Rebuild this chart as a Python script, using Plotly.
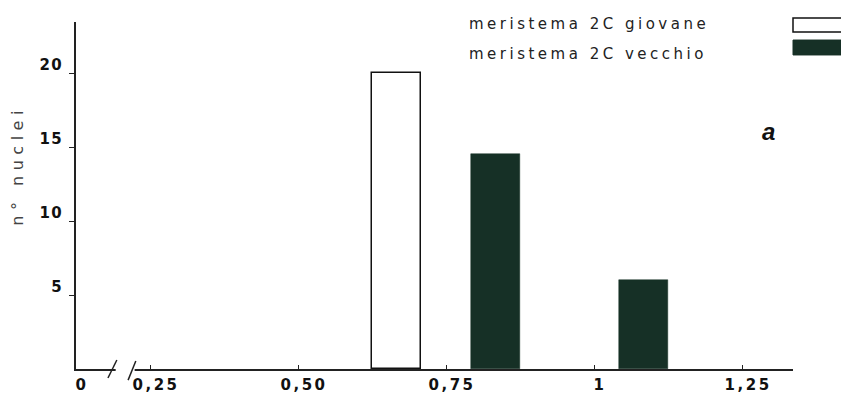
import plotly.graph_objects as go

# Data (bin centers in relative DNA content, counts of nuclei)
giovane_x = [0.6667]
giovane_y = [20]
vecchio_x = [0.8333, 1.0833]
vecchio_y = [14.5, 6]
bin_width = 1 / 12

x_tickvals = [0.125, 0.25, 0.5, 0.75, 1.0, 1.25]
x_ticktext = ["0", "0,25", "0,50", "0,75", "1", "1,25"]
y_tickvals = [5, 10, 15, 20]
y_ticktext = ["5", "10", "15", "20"]

legend_labels = ["meristema 2C giovane", "meristema 2C vecchio"]
panel_label = "a"
y_title = "n° nuclei"

DARK = "#163026"

fig = go.Figure()
fig.add_trace(go.Bar(x=giovane_x, y=giovane_y, width=bin_width,
                     marker=dict(color="white", line=dict(color="#111", width=1.5)),
                     name=legend_labels[0], showlegend=False))
fig.add_trace(go.Bar(x=vecchio_x, y=vecchio_y, width=bin_width,
                     marker=dict(color=DARK, line=dict(color=DARK, width=0.5)),
                     name=legend_labels[1], showlegend=False))

tickfont = dict(family="DejaVu Sans", size=15, color="#111", weight="bold")

fig.update_layout(
    width=841, height=404,
    margin=dict(l=76, r=48, t=22, b=35),
    paper_bgcolor="white", plot_bgcolor="white",
    bargap=0,
    xaxis=dict(range=[0.125, 1.336], tickvals=x_tickvals, ticktext=x_ticktext,
               showline=True, linecolor="#222", linewidth=1.5, showgrid=False,
               zeroline=False, ticks="inside", ticklen=4, tickcolor="#222",
               tickfont=tickfont, ticklabelstandoff=1, ticklabelshift=6,
               automargin=False),
    yaxis=dict(range=[0, 23.45], tickvals=y_tickvals, ticktext=y_ticktext,
               showline=True, linecolor="#222", linewidth=1.5, showgrid=False,
               zeroline=False, ticks="outside", ticklen=5, tickcolor="#222",
               tickfont=tickfont, ticklabelshift=-8, ticklabelstandoff=3,
               automargin=False),
)

# axis break on x axis
fig.add_shape(type="rect", xref="x", yref="paper", x0=0.192, x1=0.224, y0=-0.012, y1=0.012,
              fillcolor="white", line=dict(width=0), layer="above")
fig.add_shape(type="line", xref="x", yref="paper", x0=0.179, y0=-0.026, x1=0.194, y1=0.026,
              line=dict(color="#222", width=1.5))
fig.add_shape(type="line", xref="x", yref="paper", x0=0.213, y0=-0.032, x1=0.226, y1=0.023,
              line=dict(color="#222", width=1.5))

# legend (text + swatches)
legfont = dict(family="DejaVu Sans", size=15, color="#222")
fig.add_annotation(x=0.545, y=0.995, xref="paper", yref="paper", text=legend_labels[0],
                   showarrow=False, xanchor="left", yanchor="middle", align="left", font=legfont)
fig.add_annotation(x=0.545, y=0.909, xref="paper", yref="paper", text=legend_labels[1],
                   showarrow=False, xanchor="left", yanchor="middle", align="left", font=legfont)
fig.add_shape(type="rect", xref="paper", yref="paper", x0=1.0, x1=1.08, y0=0.971, y1=1.0115,
              fillcolor="white", line=dict(color="#111", width=1.5))
fig.add_shape(type="rect", xref="paper", yref="paper", x0=1.0, x1=1.08, y0=0.905, y1=0.948,
              fillcolor=DARK, line=dict(color=DARK, width=1))

# y title
fig.add_annotation(x=-0.081, y=0.588, xref="paper", yref="paper", text=y_title, textangle=-90,
                   showarrow=False, xanchor="center", yanchor="middle",
                   font=dict(family="DejaVu Sans", size=16, color="#444"))

# panel label
fig.add_annotation(x=0.9665, y=0.683, xref="paper", yref="paper", text=panel_label,
                   showarrow=False, xanchor="center", yanchor="middle",
                   font=dict(family="Liberation Sans", size=24, color="#111",
                             weight="bold", style="italic"))

post = """
document.body.style.margin = '0';
var gd = document.getElementById('{plot_id}');
gd.querySelectorAll('.annotation-text').forEach(function(t){
  var s = t.textContent;
  if (s.indexOf('meristema') === 0) t.setAttribute('letter-spacing', '3.5px');
  if (s.indexOf('nuclei') >= 0) t.setAttribute('letter-spacing', '5.5px');
});
gd.querySelectorAll('.xtick text').forEach(function(t){
  t.setAttribute('letter-spacing', '2.5px');
});
gd.querySelectorAll('.ytick text').forEach(function(t){
  t.setAttribute('letter-spacing', '1.5px');
});
"""

fig.write_html("out.html", post_script=post, config={"displayModeBar": False})
